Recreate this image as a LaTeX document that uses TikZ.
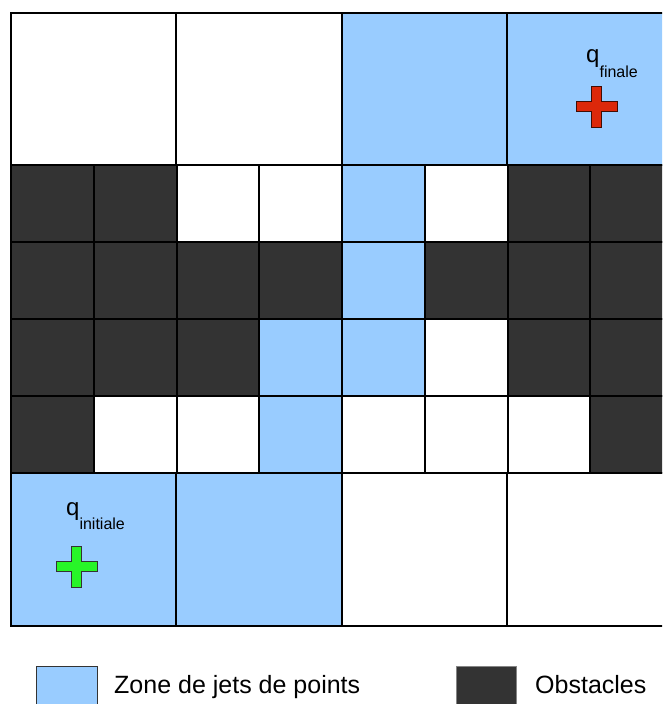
\documentclass[tikz,border=0pt]{standalone}
\usepackage{fontspec}
\setmainfont{Liberation Sans}
\usepackage{tikz}
\definecolor{bleujet}{RGB}{153,204,255}
\definecolor{gris}{RGB}{51,51,51}
\definecolor{rouge}{RGB}{220,40,10}
\definecolor{vert}{RGB}{40,245,40}

\begin{document}
\begin{tikzpicture}[x=1pt, y=-1pt,
    cell/.style={draw=black, line width=2pt},
    libre/.style={fill=white},
    jet/.style={fill=bleujet},
    obst/.style={fill=gris},
    etiq/.style={anchor=base west, inner sep=0pt, font=\fontsize{24}{24}\selectfont},
    legende/.style={anchor=base west, inner sep=0pt, font=\fontsize{25}{26}\selectfont},
    croix/.pic={\draw[line width=0.9pt, pic actions]
        (-4.75,-20.5) -- (4.75,-20.5) -- (4.75,-4.75) -- (20.5,-4.75) -- (20.5,4.75)
        -- (4.75,4.75) -- (4.75,20.5) -- (-4.75,20.5) -- (-4.75,4.75) -- (-20.5,4.75)
        -- (-20.5,-4.75) -- (-4.75,-4.75) -- cycle;}]
    \clip (0,0) rectangle (662,704);
    \fill[white] (0,0) rectangle (662,704);

    % grandes cases du haut et du bas
    \foreach \c/\x in {libre/11,libre/176,jet/342,jet/507}
        \draw[cell,\c] (\x,13) rectangle ++(166,152);
    \foreach \c/\x in {jet/11,jet/176,libre/342,libre/507}
        \draw[cell,\c] (\x,473) rectangle ++(166,153);

    % petites cases
    \foreach \ligne [count=\r from 0] in {
        {obst,obst,libre,libre,jet,libre,obst,obst},
        {obst,obst,obst,obst,jet,obst,obst,obst},
        {obst,obst,obst,jet,jet,libre,obst,obst},
        {obst,libre,libre,jet,libre,libre,libre,obst}}
        \foreach \c [count=\k from 0] in \ligne
            \draw[cell,\c] ({11+round(\k*82.75)},{165+\r*77}) rectangle ++(83,77);

    % configurations
    \node[etiq] (qfin) at (586,62) {q\raisebox{-15pt}{\fontsize{16}{16}\selectfont finale}};
    \pic[draw=black!70!rouge, fill=rouge] (crfin) at (596.5,106.5) {croix};
    \node[etiq] (qini) at (66,515) {q\raisebox{-14pt}{\fontsize{16}{16}\selectfont initiale}};
    \pic[draw=gris, fill=vert] (crini) at (76.5,566.5) {croix};

    % legende
    \draw[draw=gris, line width=0.8pt, fill=bleujet] (36,666) rectangle (97,715);
    \node[legende] (lgjet) at (114,693.3) {Zone de jets de points};
    \draw[draw=gris!60, line width=0.8pt, fill=gris] (456,666) rectangle (516,715);
    \node[legende] (lgobst) at (535,693.3) {Obstacles};
\end{tikzpicture}
\end{document}
